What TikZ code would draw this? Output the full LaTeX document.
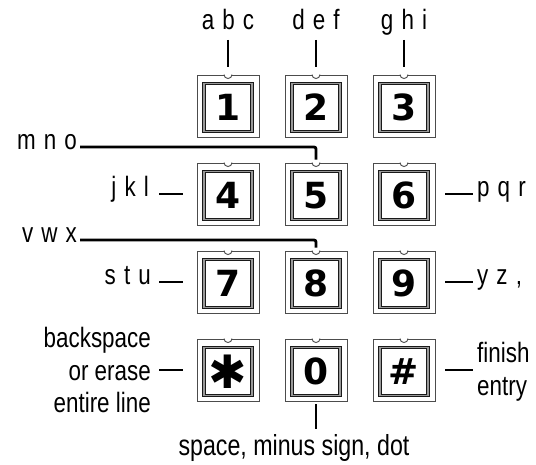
\documentclass[tikz,border=0pt]{standalone}
\usepackage{fontspec}
\setmainfont{Liberation Sans}[FakeStretch=0.8]
\newfontfamily\spacedfont{Liberation Sans}[FakeStretch=0.8,WordSpace=1.3]
\newfontfamily\keyfont{DejaVu Sans}
\usepackage{tikz}
\usetikzlibrary{calc}

\tikzset{
  keyframe/.style={draw=black!70, line width=0.9pt, minimum width=62pt, minimum height=62pt, inner sep=0pt},
  keyface/.style={draw=black!90, line width=1pt, double=black!40, double distance=1.6pt,
    minimum size=48pt, inner sep=0pt, font=\keyfont\bfseries\fontsize{36}{36}\selectfont},
  wire/.style={line width=2.8pt},
  lbl/.style={inner sep=0pt, font=\spacedfont\fontsize{28}{32.5}\selectfont},
  note/.style={inner sep=0pt, font=\fontsize{28}{32.5}\selectfont},
}

% one key of the pad: frame with notch, face with symbol
\newcommand{\padkey}[4]{%
  \node[keyframe] (#1) at (#2,#3) {};
  \node[keyface] (#1f) at (#2,#3+1.5) {#4};
  \fill[white] ($(#1.north)+(-4,-1.2)$) rectangle ($(#1.north)+(4,1.2)$);
  \draw[black!70, line width=0.9pt] ($(#1.north)+(-4,0)$) arc[start angle=180, end angle=360, radius=4pt];
}

\begin{document}
\begin{tikzpicture}[x=1pt,y=-1pt]
\useasboundingbox (0,0) rectangle (536,465);

% keys
\padkey{k1}{228}{106}{1}
\padkey{k2}{316}{106}{2}
\padkey{k3}{404}{106}{3}
\padkey{k4}{228}{194}{4}
\padkey{k5}{316}{194}{5}
\padkey{k6}{404}{194}{6}
\padkey{k7}{228}{282}{7}
\padkey{k8}{316}{282}{8}
\padkey{k9}{404}{282}{9}
\padkey{kst}{228}{370}{\fontsize{46}{46}\selectfont ✱}
\padkey{k0}{316}{370}{0}
\padkey{khs}{404}{370}{\#}

% letters
\node[lbl,anchor=base] (abc) at (228,30) {a b c};
\node[lbl,anchor=base] (def) at (316,30) {d e f};
\node[lbl,anchor=base] (ghi) at (404,30) {g h i};
\node[lbl,anchor=mid east] (mno) at (77,147) {m n o};
\node[lbl,anchor=mid east] (jkl) at (149,194) {j k l};
\node[lbl,anchor=mid west] (pqr) at (477,194) {p q r};
\node[lbl,anchor=mid east] (vwx) at (77,240) {v w x};
\node[lbl,anchor=mid east] (stu) at (151,282) {s t u};
\node[lbl,anchor=mid west] (yz) at (477,282) {y z ,};
\node[note,anchor=east,align=right] (bksp) at (151,370) {backspace\\or erase\\entire line};
\node[note,anchor=west,align=left] (fin) at (477,372) {finish\\entry};
\node[note,anchor=base,font=\fontsize{29}{32.5}\selectfont] (spc) at (294,455) {space, minus sign, dot};

% wires
\draw[wire,shorten <=10pt,shorten >=8pt] (abc.base) -- (k1.north);
\draw[wire,shorten <=10pt,shorten >=8pt] (def.base) -- (k2.north);
\draw[wire,shorten <=10pt,shorten >=8pt] (ghi.base) -- (k3.north);
\draw[wire,rounded corners=2pt,shorten <=3pt,shorten >=3pt] (mno.mid east) -| (k5.north);
\draw[wire,rounded corners=2pt,shorten <=3pt,shorten >=3pt] (vwx.mid east) -| (k8.north);
\draw[wire,shorten <=10pt,shorten >=14pt] (jkl.mid east) -- (k4.west);
\draw[wire,shorten <=8pt,shorten >=14pt] (stu.mid east) -- (k7.west);
\draw[wire,shorten <=8pt,shorten >=14pt] (bksp.east) -- (kst.west);
\draw[wire,shorten <=10pt,shorten >=4pt] (k6.east) -- (pqr.mid west);
\draw[wire,shorten <=10pt,shorten >=4pt] (k9.east) -- (yz.mid west);
\draw[wire,shorten <=10pt,shorten >=4pt] (khs.east) -- (khs.east -| fin.west);
\draw[wire,shorten <=3pt,shorten >=5pt] (k0.south) -- (k0.south |- spc.north);

\end{tikzpicture}
\end{document}
